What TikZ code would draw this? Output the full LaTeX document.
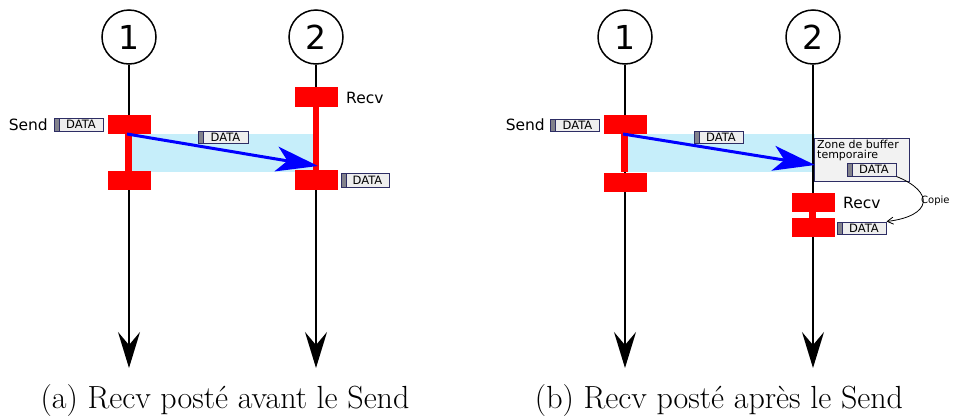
\documentclass[tikz,border=0pt]{standalone}
\usepackage{fontspec}
\newfontfamily\dv{DejaVu Sans}
\usetikzlibrary{arrows.meta}
\definecolor{navy}{RGB}{45,45,100}
\definecolor{lblue}{RGB}{198,238,250}
\definecolor{bufgray}{RGB}{242,242,242}
\definecolor{datafill}{RGB}{238,238,238}
\definecolor{strip}{RGB}{130,130,140}
\tikzset{
  proc/.style={circle,draw,line width=1.5pt,minimum size=54pt,inner sep=0pt,font=\dv\fontsize{33}{33}\selectfont},
  lifeline/.style={line width=2pt,-{Stealth[length=36pt,width=22pt,inset=13pt]}},
  redblk/.style={fill=red,draw=none,minimum width=43pt,minimum height=19pt,inner sep=0pt},
  redbar/.style={draw=red,line width=7pt},
  msg/.style={draw=blue,line width=3pt,-{Stealth[length=42pt,width=25pt,inset=11pt]}},
  lbl/.style={font=\dv\fontsize{15.5}{15.5}\selectfont,inner sep=0pt},
  databox/.style={draw=navy,line width=1pt,fill=datafill,minimum width=49pt,minimum height=13pt,inner sep=0pt,
    font=\dv\fontsize{11.5}{11.5}\selectfont,text depth=0pt,
    path picture={\fill[strip] (path picture bounding box.south west) rectangle ([xshift=5pt]path picture bounding box.north west);
      \draw[navy,line width=1pt] ([xshift=5pt]path picture bounding box.south west) -- ([xshift=5pt]path picture bounding box.north west);}},
  transit/.style={fill=lblue,draw=none,inner sep=0pt},
  captext/.style={font=\fontsize{32}{34}\selectfont,inner sep=0pt}
}
\newcommand{\dt}{\hspace{5pt}DATA}
\begin{document}
\begin{tikzpicture}[x=1pt,y=-1pt]
\useasboundingbox (0,0) rectangle (954,418);
% ---------- panel (a) ----------
\node[transit,minimum width=181pt,minimum height=38pt] (ta) at (222.5,153) {};
\node[proc] (a1) at (129,37) {1};
\node[proc] (a2) at (316,37) {2};
\coordinate (ae1) at (129,368);
\coordinate (ae2) at (316,368);
\draw[lifeline] (a1) -- (ae1);
\draw[lifeline] (a2) -- (ae2);
\node[redblk] (as1) at (129.5,124.5) {};
\node[redblk] (as2) at (129.5,180.5) {};
\draw[redbar] ([xshift=-1pt]as1.south) -- ([xshift=-1pt]as2.north);
\node[redblk,minimum height=20pt] (ar1) at (316.5,97) {};
\node[redblk,minimum height=20pt] (ar2) at (316.5,180) {};
\draw[redbar,line width=6pt] ([xshift=-0.5pt]ar1.south) -- ([xshift=-0.5pt]ar2.north);
\node[lbl,anchor=west] (arecv) at (346,98) {Recv};
\node[lbl,anchor=east] (asend) at (48,125) {Send};
\node[databox] (ad1) at (78.5,124.5) {\dt};
\node[databox,minimum width=50pt,minimum height=12pt] (ad2) at (223,137) {\dt};
\node[databox,minimum width=48pt,minimum height=14pt] (ad3) at (365,180) {\dt};
\coordinate (am1) at (127,134);
\coordinate (am2) at (318,166);
\draw[msg] (am1) -- (am2);
\node[captext] (capa) at (225,401) {(a) Recv posté avant le Send};
% ---------- panel (b) ----------
\node[transit,minimum width=187pt,minimum height=38pt] (tb) at (721.5,153) {};
\node[proc] (b1) at (625,37) {1};
\node[proc] (b2) at (813,37) {2};
\coordinate (be1) at (625,368);
\coordinate (be2) at (813,368);
\draw[lifeline] (b1) -- (be1);
\draw[lifeline] (b2) -- (be2);
\node[redblk] (bs1) at (625.5,124.5) {};
\node[redblk] (bs2) at (625.5,182) {};
\draw[redbar] ([xshift=-1pt]bs1.south) -- ([xshift=-1pt]bs2.north);
\node[lbl,anchor=east] (bsend) at (545,125) {Send};
\node[databox,minimum height=12pt] (bd1) at (575,125) {\dt};
\node[databox,minimum width=49pt,minimum height=12pt] (bd2) at (718.5,137) {\dt};
\node[draw=navy,line width=1pt,fill=bufgray,minimum width=95pt,minimum height=43pt,inner sep=0pt] (buf) at (861.5,159.5) {};
\node[anchor=north west,inner sep=0pt,align=left,font=\dv\fontsize{11}{8}\selectfont] (buftxt) at (817,140) {Zone de buffer\\temporaire};
\node[databox] (bd3) at (871.5,169.5) {\dt};
\coordinate (bm1) at (623,134);
\coordinate (bm2) at (815,165);
\draw[msg] (bm1) -- (bm2);
\node[redblk] (br1) at (813.5,202.5) {};
\node[redblk] (br2) at (813.5,227.5) {};
\draw[redbar] ([xshift=-1pt]br1.south) -- ([xshift=-1pt]br2.north);
\node[lbl,anchor=west] (brecv) at (843,203) {Recv};
\node[databox,minimum height=12pt] (bd4) at (861.5,228) {\dt};
\draw[line width=0.8pt,-{Straight Barb[length=6pt,width=7pt]}] (bd3.south east) .. controls (935,192) and (932,216) .. (bd4.north east);
\node[anchor=west,inner sep=0pt,font=\dv\fontsize{10}{10}\selectfont] (copie) at (921,201) {Copie};
\node[captext] (capb) at (719,401) {(b) Recv posté après le Send};
\end{tikzpicture}
\end{document}
